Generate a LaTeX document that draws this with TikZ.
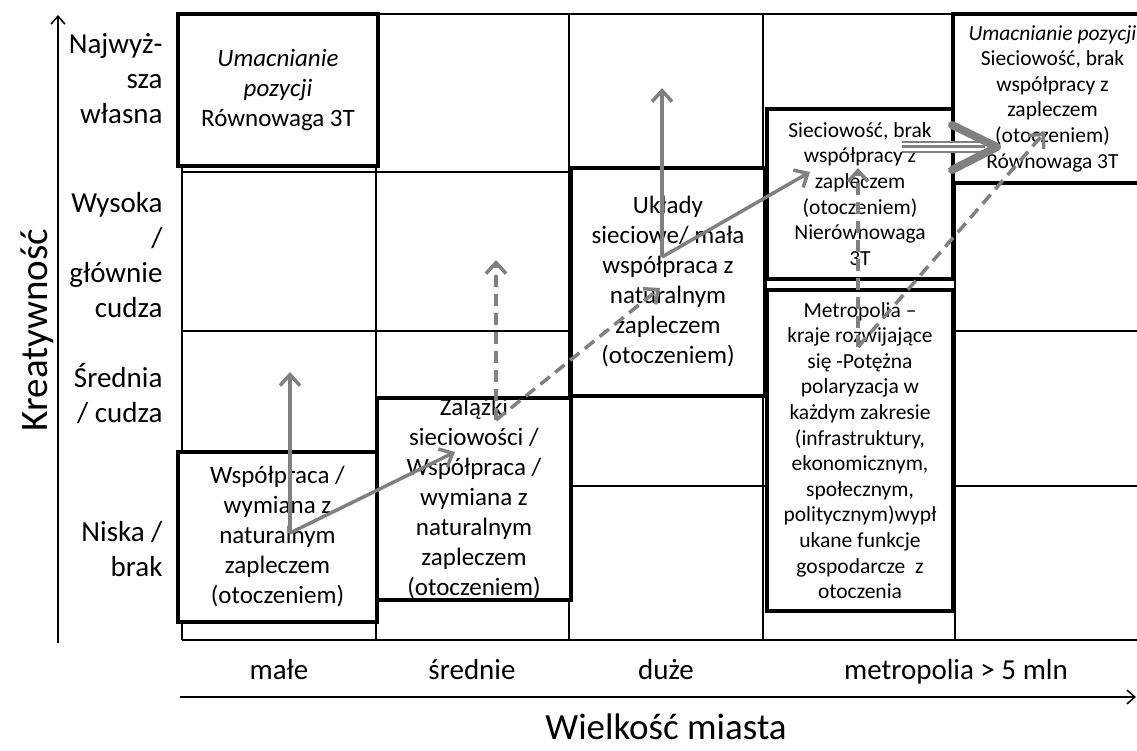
\documentclass[tikz,border=0pt]{standalone}
\usepackage{fontspec}
\setmainfont{Carlito}
\usetikzlibrary{arrows.meta}

\tikzset{
	gridline/.style={line width=1.5pt},
	cellbox/.style={draw, line width=4pt, fill=white, inner sep=0pt, align=center, font=\fontsize{25}{30}\selectfont},
	smallbox/.style={cellbox, font=\fontsize{21.5}{25.6}\selectfont},
	rowlabel/.style={anchor=east, align=right, font=\fontsize{29}{35}\selectfont},
	collabel/.style={anchor=base, font=\fontsize{29}{35}\selectfont},
	axis/.style={line width=1.5pt, -{Straight Barb[length=8pt,width=14pt]}},
	trend/.style={draw=gray, line width=3.5pt, -{Straight Barb[length=11pt,width=20pt]}},
	trenddash/.style={trend, dash pattern=on 12pt off 7pt}
}

\begin{document}
\begin{tikzpicture}[x=1pt,y=-1pt]
	\useasboundingbox (0,0) rectangle (1137,751);
	
	% grid
	\foreach \x in {182,376,569,763,955}{
		\draw[gridline] (\x,14) -- (\x,640);
	}
	\foreach \y in {14,172,331,486,640}{
		\draw[gridline] (182,\y) -- (1137,\y);
	}
	
	% axes
	\coordinate (Origin) at (58,643);
	\coordinate (Ytop) at (58,15);
	\coordinate (Xleft) at (180,697);
	\coordinate (Xright) at (1136,697);
	\draw[axis] (Origin) -- (Ytop);
	\draw[axis] (Xleft) -- (Xright);
	
	\node[rotate=90, anchor=base, font=\fontsize{39}{45}\selectfont] (ytitle) at (47,330) {Kreatywność};
	\node[anchor=base, inner sep=1pt, font=\fontsize{37}{45}\selectfont] (xtitle) at (666,739) {Wielkość miasta};
	
	\node[rowlabel] (rowfour) at (166,79) {Najwyż-\\sza\\własna};
	\node[rowlabel] (rowthree) at (166,255) {Wysoka\\/\\głównie\\cudza};
	\node[rowlabel] (rowtwo) at (166,394) {Średnia\\/ cudza};
	\node[rowlabel] (rowone) at (166,549) {Niska /\\brak};
	
	\node[collabel] (colone) at (279,679) {małe};
	\node[collabel] (coltwo) at (472,679) {średnie};
	\node[collabel] (colthree) at (666,679) {duże};
	\node[collabel] (colfour) at (956,679) {metropolia > 5 mln};
	
	% stages
	\node[cellbox, minimum width=200pt, minimum height=152pt] (Bmale) at (278,90)
	{\textit{Umacnianie}\\\textit{pozycji}\\Równowaga 3T};
	\node[cellbox, minimum width=199pt, minimum height=170pt] (Amale) at (277.5,537)
	{Współpraca /\\wymiana z\\naturalnym\\zapleczem\\(otoczeniem)};
	\node[cellbox, minimum width=194pt, minimum height=202pt] (Asrednie) at (474,499)
	{Zalążki\\sieciowości /\\Współpraca /\\wymiana z\\naturalnym\\zapleczem\\(otoczeniem)};
	\node[cellbox, minimum width=194pt, minimum height=228pt] (Aduze) at (668,282)
	{Układy\\sieciowe/ mała\\współpraca z\\naturalnym\\zapleczem\\(otoczeniem)};
	\node[smallbox, minimum width=186pt, minimum height=170pt] (Ametro) at (860,194)
	{Sieciowość, brak\\współpracy z\\zapleczem\\(otoczeniem)\\Nierównowaga\\3T};
	\node[smallbox, minimum width=186pt, minimum height=321pt] (Cmetro) at (860,450.5)
	{Metropolia –\\kraje rozwijające\\się -Potężna\\polaryzacja w\\każdym zakresie\\(infrastruktury,\\ekonomicznym,\\społecznym,\\politycznym)wypł\\ukane funkcje\\gospodarcze~ z\\otoczenia};
	\node[smallbox, minimum width=199pt, minimum height=169pt] (Bmetro) at (1052.5,98.5)
	{\textit{Umacnianie pozycji}\\Sieciowość, brak\\współpracy z\\zapleczem\\(otoczeniem)\\Równowaga 3T};
	
	% paths of development
	\coordinate (s1) at (290,533);
	\coordinate (s2) at (496,420);
	\coordinate (s3) at (662,257);
	\coordinate (s4) at (858,347);
	\coordinate (u1) at (290,372);
	\coordinate (u2) at (496,260);
	\coordinate (u3) at (662,88);
	\coordinate (u4) at (858,168);
	\coordinate (r1) at (455,452);
	\coordinate (r2) at (660,288);
	\coordinate (r3) at (810,172);
	\coordinate (r4) at (1045,132);
	
	\draw[trend] (s1) -- (u1);
	\draw[trend] (s1) -- (r1);
	\draw[trenddash] (s2) -- (u2);
	\draw[trenddash] (s2) -- (r2);
	\draw[trend] (s3) -- (u3);
	\draw[trend] (s3) -- (r3);
	\draw[trenddash] (s4) -- (u4);
	\draw[trenddash] (s4) -- (r4);
	
	% triple arrow to top right
	\coordinate (t1) at (902,147);
	\coordinate (t2) at (985,147);
	\draw[gray, line width=12pt] (t1) -- (t2);
	\draw[white, line width=8pt] (t1) -- (t2);
	\draw[gray, line width=3pt] (t1) -- (t2);
	\draw[gray, line width=8pt, line cap=round, line join=round] (952,125) -- (997,147) -- (952,170);
	
\end{tikzpicture}
\end{document}
